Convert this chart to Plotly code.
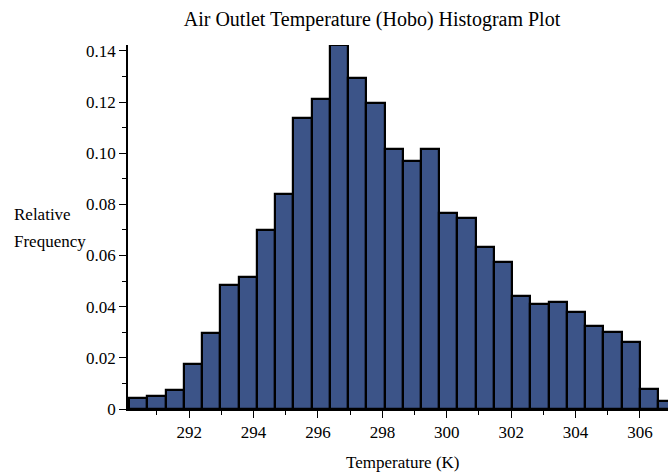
import plotly.graph_objects as go

# Histogram of air outlet temperature (Hobo logger), 30 equal-width bins
bin_start = 290.136
bin_width = 0.5664
rel_freq = [
    0.0042, 0.0052, 0.0074, 0.0176, 0.0296, 0.0485, 0.0515, 0.0700,
    0.0840, 0.1138, 0.1211, 0.1424, 0.1295, 0.1198, 0.1016, 0.0970,
    0.1016, 0.0767, 0.0748, 0.0634, 0.0573, 0.0443, 0.0410, 0.0419,
    0.0380, 0.0324, 0.0300, 0.0263, 0.0079, 0.0031,
]
x_ticks = [292, 294, 296, 298, 300, 302, 304, 306]
y_ticks = [0, 0.02, 0.04, 0.06, 0.08, 0.10, 0.12, 0.14]
y_tick_text = ["0", "0.02", "0.04", "0.06", "0.08", "0.10", "0.12", "0.14"]

bin_left = [bin_start + i * bin_width for i in range(len(rel_freq))]

serif = "Liberation Serif, Times New Roman, serif"

fig = go.Figure(
    go.Bar(
        x=bin_left,
        y=rel_freq,
        width=bin_width,
        offset=0,
        marker=dict(color="#3c5488", line=dict(color="black", width=2.2)),
    )
)

fig.update_layout(
    width=668,
    height=473,
    margin=dict(l=128, r=0, t=45, b=64),
    paper_bgcolor="white",
    plot_bgcolor="white",
    showlegend=False,
    bargap=0,
    font=dict(family=serif, color="black", size=16),
    title=dict(
        text="Air Outlet Temperature (Hobo) Histogram Plot",
        font=dict(family=serif, size=20, color="black"),
        x=372 / 668,
        xanchor="center",
        yref="container",
        y=1 - 19 / 473,
        yanchor="middle",
    ),
    xaxis=dict(
        range=[290.1, 306.87],
        tickvals=x_ticks,
        ticks="outside",
        ticklen=7,
        tickwidth=1.3,
        tickcolor="black",
        showline=True,
        linecolor="black",
        linewidth=1.5,
        showgrid=False,
        zeroline=False,
        tickfont=dict(family=serif, size=17),
        minor=dict(dtick=1, tick0=291, ticks="outside", ticklen=4,
                   tickcolor="black", tickwidth=1.3, showgrid=False),
    ),
    yaxis=dict(
        range=[0, 0.1423],
        tickvals=y_ticks,
        ticktext=y_tick_text,
        ticks="outside",
        ticklen=7,
        tickwidth=1.3,
        tickcolor="black",
        showline=True,
        linecolor="black",
        linewidth=1.5,
        showgrid=False,
        zeroline=False,
        tickfont=dict(family=serif, size=17),
        minor=dict(dtick=0.01, tick0=0.01, ticks="outside", ticklen=4,
                   tickcolor="black", tickwidth=1.3, showgrid=False),
    ),
)

# X-axis title placed below the tick labels
fig.add_annotation(
    text="Temperature (K)",
    xref="paper", yref="paper",
    x=(403 - 128) / 540, y=(409 - 462) / 364,
    xanchor="center", yanchor="middle",
    showarrow=False,
    font=dict(family=serif, size=17, color="black"),
)

# Horizontal two-line y-axis label
for txt, ypx in [("Relative", 214), ("Frequency", 241)]:
    fig.add_annotation(
        text=txt,
        xref="paper", yref="paper",
        x=(12 - 128) / 540, y=(409 - ypx) / 364,
        xanchor="left", yanchor="middle",
        showarrow=False,
        font=dict(family=serif, size=17, color="black"),
    )

fig.write_html("out.html")
